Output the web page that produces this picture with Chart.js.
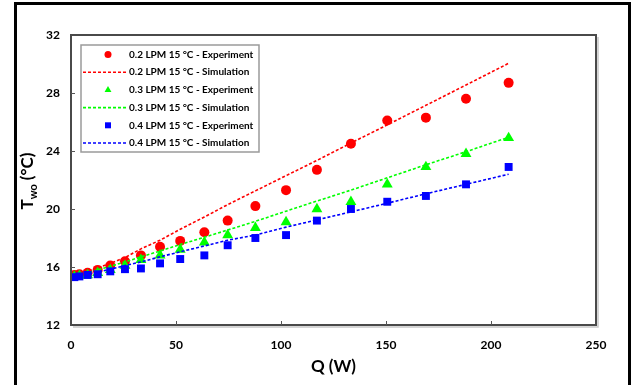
<!DOCTYPE html>
<html>
<head>
<meta charset="utf-8">
<script src="https://cdn.jsdelivr.net/npm/chart.js@4.4.1/dist/chart.umd.min.js"></script>
<style>
  html, body { margin: 0; padding: 0; background: #fff; overflow: hidden; }
  #wrap { position: relative; width: 635px; height: 385px; }
  #frame { position: absolute; left: 14px; top: 2px; width: 611px; height: 420px; border: 3px solid #000; }
  canvas { position: absolute; left: 0; top: 0; }
</style>
</head>
<body>
<div id="wrap">
  <div id="frame"></div>
  <canvas id="chart" width="635" height="385"></canvas>
</div>
<script>
// heat load Q (W)
const heatLoad = [1.6, 4, 7.9, 12.7, 18.7, 25.7, 33.3, 42.4, 52, 63.5, 74.6, 87.8, 102.4, 117.1, 133.3, 150.6, 169, 188.1, 208.4];

// outlet water temperature (°C)
const exp02 = [15.45, 15.5, 15.6, 15.8, 16.1, 16.4, 16.8, 17.4, 17.8, 18.4, 19.2, 20.2, 21.3, 22.7, 24.5, 26.1, 26.3, 27.6, 28.7];
const sim02 = [15.45, 15.55, 15.7, 15.95, 16.25, 16.65, 17.25, 17.85, 18.6, 19.45, 20.3, 21.25, 22.3, 23.35, 24.55, 25.8, 27.15, 28.55, 30.05];
const exp03 = [15.35, 15.4, 15.45, 15.6, 15.8, 16.1, 16.5, 16.8, 17.2, 17.7, 18.2, 18.7, 19.1, 20.0, 20.5, 21.7, 22.9, 23.8, 24.9];
const sim03 = [15.4, 15.45, 15.6, 15.8, 16.05, 16.35, 16.7, 17.1, 17.55, 18.05, 18.55, 19.15, 19.85, 20.55, 21.3, 22.15, 23.05, 23.95, 24.95];
const exp04 = [15.3, 15.35, 15.45, 15.5, 15.7, 15.85, 15.9, 16.25, 16.55, 16.8, 17.5, 18.0, 18.2, 19.2, 20.0, 20.5, 20.9, 21.7, 22.9];
const sim04 = [15.35, 15.4, 15.5, 15.65, 15.85, 16.1, 16.35, 16.7, 17.05, 17.45, 17.85, 18.2, 18.75, 19.25, 19.8, 20.4, 21.05, 21.7, 22.4];

const xTicks = [0, 50, 100, 150, 200, 250];
const yTicks = [12, 16, 20, 24, 28, 32];

const seriesLabels = [
  "0.2 LPM 15 °C - Experiment",
  "0.2 LPM 15 °C - Simulation",
  "0.3 LPM 15 °C - Experiment",
  "0.3 LPM 15 °C - Simulation",
  "0.4 LPM 15 °C - Experiment",
  "0.4 LPM 15 °C - Simulation",
];

const RED = "#ff0000";
const GREEN = "#00ff00";
const BLUE = "#0000ff";
const FONT = "Lato";

const toPoints = (ys) => heatLoad.map((q, i) => ({ x: q, y: ys[i] }));

function expSet(label, ys, color, style, radius, order) {
  return {
    label,
    data: toPoints(ys),
    showLine: false,
    pointStyle: style,
    pointRadius: radius,
    pointBackgroundColor: color,
    pointBorderColor: color,
    pointBorderWidth: 0,
    order,
  };
}

function simSet(label, ys, color, order) {
  return {
    label,
    data: toPoints(ys),
    showLine: true,
    borderColor: color,
    borderWidth: 1.6,
    borderDash: [3, 2],
    pointRadius: 0,
    fill: false,
    order,
  };
}

const datasets = [
  expSet(seriesLabels[0], exp02, RED, "circle", 5, 6),
  simSet(seriesLabels[1], sim02, RED, 5),
  expSet(seriesLabels[2], exp03, GREEN, "triangle", 6.3, 4),
  simSet(seriesLabels[3], sim03, GREEN, 3),
  expSet(seriesLabels[4], exp04, BLUE, "rect", 5.6, 2),
  simSet(seriesLabels[5], sim04, BLUE, 1),
];

function drawMarker(ctx, style, x, y, r, color) {
  ctx.fillStyle = color;
  ctx.beginPath();
  if (style === "circle") {
    ctx.arc(x, y, r, 0, Math.PI * 2);
  } else if (style === "triangle") {
    ctx.moveTo(x, y - r);
    ctx.lineTo(x + r * 0.866, y + r * 0.5);
    ctx.lineTo(x - r * 0.866, y + r * 0.5);
    ctx.closePath();
  } else {
    ctx.rect(x - r, y - r, r * 2, r * 2);
  }
  ctx.fill();
}

const decorPlugin = {
  id: "decor",
  afterDraw(chart) {
    const { ctx, chartArea: a, scales } = chart;
    ctx.save();

    // plot frame with soft shadow
    ctx.strokeStyle = "#c8c8c8";
    ctx.lineWidth = 1.5;
    ctx.beginPath();
    ctx.moveTo(a.right + 2, a.top + 2);
    ctx.lineTo(a.right + 2, a.bottom + 2);
    ctx.lineTo(a.left + 2, a.bottom + 2);
    ctx.stroke();
    ctx.strokeStyle = "#4a4a4a";
    ctx.lineWidth = 2;
    ctx.strokeRect(a.left, a.top, a.right - a.left, a.bottom - a.top);

    // inward tick marks
    ctx.strokeStyle = "#555";
    ctx.lineWidth = 1;
    ctx.beginPath();
    yTicks.slice(1, -1).forEach((v) => {
      const py = Math.round(scales.y.getPixelForValue(v)) + 0.5;
      ctx.moveTo(a.left, py);
      ctx.lineTo(a.left + 4, py);
    });
    xTicks.slice(1, -1).forEach((v) => {
      const px = Math.round(scales.x.getPixelForValue(v)) + 0.5;
      ctx.moveTo(px, a.bottom);
      ctx.lineTo(px, a.bottom - 4);
    });
    ctx.stroke();

    // y axis title with subscript
    ctx.translate(28, 181);
    ctx.rotate(-Math.PI / 2);
    ctx.fillStyle = "#000";
    ctx.textBaseline = "middle";
    ctx.textAlign = "left";
    const big = `bold 17px ${FONT}`;
    const small = `bold 11px ${FONT}`;
    ctx.font = big;
    const wT = ctx.measureText("T").width;
    const wRest = ctx.measureText(" (°C)").width;
    ctx.font = small;
    const wSub = ctx.measureText("wo").width;
    let x = -(wT + wSub + wRest) / 2;
    ctx.font = big;
    ctx.fillText("T", x, 0);
    x += wT;
    ctx.font = small;
    ctx.fillText("wo", x, 5);
    x += wSub;
    ctx.font = big;
    ctx.fillText(" (°C)", x, 0);
    ctx.restore();

    // legend box
    ctx.save();
    const box = { left: 81, top: 45, right: 259, bottom: 152 };
    ctx.fillStyle = "#fff";
    ctx.fillRect(box.left, box.top, box.right - box.left, box.bottom - box.top);
    ctx.strokeStyle = "#9a9a9a";
    ctx.lineWidth = 1.5;
    ctx.strokeRect(box.left, box.top, box.right - box.left, box.bottom - box.top);
    ctx.font = `bold 10px ${FONT}`;
    ctx.textBaseline = "middle";
    ctx.textAlign = "left";
    chart.data.datasets.forEach((ds, i) => {
      const y = 54.5 + i * 17.7;
      if (ds.showLine) {
        ctx.strokeStyle = ds.borderColor;
        ctx.lineWidth = 1.6;
        ctx.setLineDash([3, 2]);
        ctx.beginPath();
        ctx.moveTo(83, y);
        ctx.lineTo(126, y);
        ctx.stroke();
        ctx.setLineDash([]);
      } else {
        const r = ds.pointStyle === "circle" ? 3.5 : ds.pointStyle === "triangle" ? 4 : 3;
        drawMarker(ctx, ds.pointStyle, 108, y, r, ds.pointBackgroundColor);
      }
      ctx.fillStyle = "#000";
      ctx.fillText(ds.label, 129, y);
    });
    ctx.restore();
  },
};

new Chart(document.getElementById("chart"), {
  type: "scatter",
  data: { datasets },
  options: {
    responsive: false,
    animation: false,
    layout: { padding: { top: 35, right: 39, bottom: 0, left: 0 } },
    plugins: {
      legend: { display: false },
      tooltip: { enabled: false },
    },
    scales: {
      x: {
        type: "linear",
        min: 0,
        max: 250,
        afterBuildTicks: (scale) => {
          scale.ticks = xTicks.map((v) => ({ value: v }));
        },
        afterFit: (scale) => {
          scale.height = 60;
        },
        grid: { display: false, drawTicks: false },
        border: { display: false },
        ticks: {
          padding: 13,
          color: "#000",
          font: { family: FONT, size: 12, weight: "bold" },
        },
        title: {
          display: true,
          text: "Q (W)",
          color: "#000",
          font: { family: FONT, size: 17, weight: "bold" },
          padding: { top: 0, bottom: 8 },
        },
      },
      y: {
        type: "linear",
        min: 12,
        max: 32,
        afterBuildTicks: (scale) => {
          scale.ticks = yTicks.map((v) => ({ value: v }));
        },
        afterFit: (scale) => {
          scale.width = 71;
        },
        grid: { display: false, drawTicks: false },
        border: { display: false },
        ticks: {
          padding: 11,
          color: "#000",
          font: { family: FONT, size: 12, weight: "bold" },
        },
      },
    },
  },
  plugins: [decorPlugin],
});
</script>
</body>
</html>
